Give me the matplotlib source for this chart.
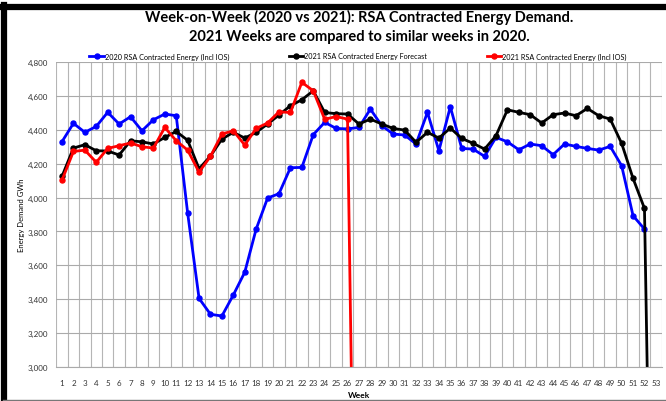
import numpy as np
import matplotlib.pyplot as plt
from matplotlib.ticker import FuncFormatter, MultipleLocator
from matplotlib.lines import Line2D

plt.rcParams['font.family'] = ['Lato', 'DejaVu Sans']

# week numbers shown on the x axis
weeks = list(range(1, 54))

# 2020 RSA Contracted Energy (Incl IOS), weeks 1-52
energy_2020 = [4330, 4438, 4385, 4420, 4503, 4434, 4477, 4394, 4459, 4493,
               4483, 3909, 3405, 3311, 3301, 3425, 3559, 3814, 3997, 4023,
               4176, 4178, 4371, 4444, 4408, 4405, 4414, 4522, 4424, 4375,
               4369, 4316, 4503, 4276, 4536, 4290, 4286, 4243, 4355, 4329,
               4282, 4316, 4306, 4253, 4316, 4302, 4290, 4280, 4302, 4188,
               3893, 3814]

# 2021 RSA Contracted Energy Forecast, weeks 1-53
forecast_2021 = [4125, 4292, 4312, 4276, 4275, 4251, 4335, 4329, 4316, 4355,
                 4390, 4338, 4170, 4245, 4345, 4385, 4351, 4385, 4434, 4487,
                 4542, 4577, 4630, 4502, 4495, 4493, 4434, 4463, 4434, 4408,
                 4398, 4326, 4385, 4351, 4410, 4349, 4320, 4286, 4365, 4518,
                 4503, 4489, 4440, 4489, 4499, 4483, 4526, 4483, 4463, 4320,
                 4113, 3936, 0]

# 2021 RSA Contracted Energy (Incl IOS), weeks 1-27
actual_2021 = [4103, 4272, 4280, 4208, 4290, 4306, 4322, 4300, 4292, 4414,
               4335, 4280, 4150, 4243, 4375, 4394, 4310, 4408, 4440, 4506,
               4502, 4680, 4630, 4462, 4478, 4463, 0]

fig = plt.figure(figsize=(6.66, 4.02), dpi=100)
ax = fig.add_axes([56.3 / 666, 34 / 402, 605.3 / 666, 305 / 402])

lw = 2.0
ms = 3.6
ax.plot(weeks[:len(energy_2020)], energy_2020, color='#0000FF', lw=lw,
        marker='o', ms=ms, label='2020 RSA Contracted Energy (Incl IOS)')
ax.plot(weeks[:len(forecast_2021)], forecast_2021, color='black', lw=lw,
        marker='o', ms=ms, label='2021 RSA Contracted Energy Forecast')
ax.plot(weeks[:len(actual_2021)], actual_2021, color='#FF0000', lw=lw,
        marker='o', ms=ms, label='2021 RSA Contracted Energy (Incl IOS)')

ax.set_xlim(0.5, 53.5)
ax.set_ylim(3000, 4800)
ax.set_xticks(weeks)
ax.set_xticklabels([str(w) for w in weeks])
ax.xaxis.set_minor_locator(MultipleLocator(1, offset=0.5))
ax.yaxis.set_major_locator(MultipleLocator(200))
ax.yaxis.set_major_formatter(FuncFormatter(lambda v, p: f'{v:,.0f}'))
ax.tick_params(axis='both', which='both', length=0, labelsize=5.8,
               colors='#333333')
ax.tick_params(axis='x', pad=9)
ax.tick_params(axis='y', pad=6)
ax.grid(True, which='major', axis='y', color='#aaaaaa', lw=0.8)
ax.grid(True, which='minor', axis='x', color='#b5b5b5', lw=0.8)
ax.set_axisbelow(True)
for s in ax.spines.values():
    s.set_visible(False)
ax.spines['bottom'].set_visible(True)
ax.spines['bottom'].set_color('#aaaaaa')
ax.spines['bottom'].set_linewidth(0.8)

ax.set_ylabel('Energy Demand GWh', fontsize=5.5)
ax.yaxis.set_label_coords(-31 / 605.3, 0.5)
ax.set_xlabel('Week', fontsize=6, fontweight='bold')
ax.xaxis.set_label_coords(0.5, -24 / 305)

fig.text(359 / 666, 1 - 17 / 402,
         'Week-on-Week (2020 vs 2021): RSA Contracted Energy Demand.',
         ha='center', va='center', fontsize=10.5, fontweight='bold')
fig.text(359 / 666, 1 - 37 / 402,
         '2021 Weeks are compared to similar weeks in 2020.',
         ha='center', va='center', fontsize=10.5, fontweight='bold')

leg = fig.legend(loc='center', bbox_to_anchor=(358 / 666, 1 - 57 / 402),
                 ncol=3, frameon=False, fontsize=5.2, handlelength=2.0,
                 handletextpad=0.1, columnspacing=8.3, borderpad=0)

# outer frame of the picture
fig.add_artist(Line2D([3 / 666, 1], [1 - 8 / 402, 1 - 8 / 402],
                      transform=fig.transFigure, color='black', lw=4.5))
fig.add_artist(Line2D([3.5 / 666, 3.5 / 666], [0, 1 - 6 / 402],
                      transform=fig.transFigure, color='black', lw=4.5))
fig.add_artist(Line2D([3 / 666, 1], [1.5 / 402, 1.5 / 402],
                      transform=fig.transFigure, color='#777777', lw=1))

fig.savefig('out.png', dpi=100)
